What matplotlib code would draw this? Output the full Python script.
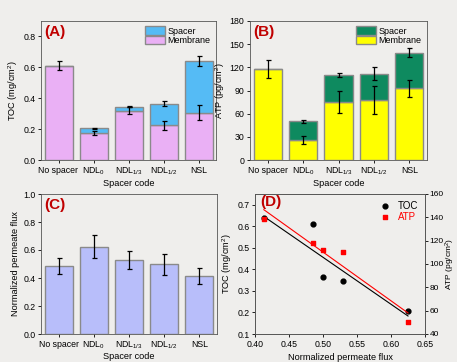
import matplotlib
matplotlib.use("Agg")
import matplotlib.pyplot as plt
import numpy as np

plt.rcParams['font.family'] = ['Liberation Sans', 'DejaVu Sans']
plt.rcParams['mathtext.fontset'] = 'custom'
plt.rcParams['mathtext.rm'] = 'Liberation Sans'
plt.rcParams['mathtext.it'] = 'Liberation Sans'

categories = ['No spacer', 'NDL$_0$', 'NDL$_{1/3}$', 'NDL$_{1/2}$', 'NSL']

toc_membrane = [0.61, 0.175, 0.32, 0.225, 0.305]
toc_membrane_err = [0.03, 0.012, 0.022, 0.03, 0.048]
toc_total = [0.61, 0.205, 0.345, 0.365, 0.64]
toc_total_err = [0.0, 0.005, 0.005, 0.015, 0.032]

atp_membrane = [118, 26, 75, 78, 93]
atp_membrane_err = [12, 5, 14, 18, 11]
atp_total = [118, 50, 110, 112, 139]
atp_total_err = [0, 2, 3, 8, 6]

flux = [0.485, 0.625, 0.53, 0.5, 0.413]
flux_err = [0.055, 0.08, 0.065, 0.075, 0.055]

BG = '#EFEEEC'
EDGE = '#8A8A8A'
PINK = '#EAB0F5'
BLUE = '#55BBF5'
GREEN = '#0E8A5F'
YELLOW = '#FFFF00'
LAV = '#B8BEFA'
LABEL_RED = '#C00000'

fig = plt.figure(figsize=(4.57, 3.62), dpi=100, facecolor=BG)
W, H = 457, 362

def add_ax(l, t, r, b):
    return fig.add_axes([l / W, 1 - b / H, (r - l) / W, (b - t) / H], facecolor=BG)

axA = add_ax(41, 21, 216, 160)
axB = add_ax(250, 21, 427, 160)
axC = add_ax(41, 194, 217, 334)
DL, DR = 255, 425
axD = add_ax(DL, 194, DR, 334)

x = np.arange(len(categories))
fs = 6.3
lfs = 6.6
ekw = dict(ecolor='black', elinewidth=0.9, capsize=1.8, capthick=0.9)

def style(ax):
    ax.tick_params(labelsize=fs, length=2.5, width=0.6, direction='out', pad=1.5)
    for s in ax.spines.values():
        s.set_linewidth(0.6)
        s.set_color('#555555')

# Panel A
spacerA = np.array(toc_total) - np.array(toc_membrane)
axA.bar(x, toc_membrane, 0.8, color=PINK, edgecolor=EDGE, linewidth=1.0, label='Membrane', zorder=2)
axA.bar(x, spacerA, 0.8, bottom=toc_membrane, color=BLUE, edgecolor=EDGE, linewidth=1.0, label='Spacer', zorder=2)
axA.errorbar(x, toc_membrane, yerr=toc_membrane_err, fmt='none', zorder=3, **ekw)
axA.errorbar(x[1:], toc_total[1:], yerr=toc_total_err[1:], fmt='none', zorder=3, **ekw)
axA.set_ylim(0, 0.9)
axA.set_yticks([0.0, 0.2, 0.4, 0.6, 0.8])
axA.set_yticklabels(['0.0', '0.2', '0.4', '0.6', '0.8'])
axA.set_xlim(-0.5, 4.5)
axA.set_xticks(x)
axA.set_xticklabels(categories)
axA.set_ylabel('TOC (mg/cm$^2$)', fontsize=lfs, labelpad=2)
axA.set_xlabel('Spacer code', fontsize=lfs, labelpad=1.5)
h, l = axA.get_legend_handles_labels()
axA.legend(h[::-1], l[::-1], loc='upper right', frameon=False, fontsize=6.5,
           handlelength=2.2, handleheight=1.1, borderaxespad=0.2, labelspacing=0.0, handletextpad=0.3)
axA.text(0.02, 0.97, '(A)', transform=axA.transAxes, color=LABEL_RED, fontsize=11,
         fontweight='bold', va='top', ha='left')
style(axA)

# Panel B
spacerB = np.array(atp_total) - np.array(atp_membrane)
axB.bar(x, atp_membrane, 0.8, color=YELLOW, edgecolor=EDGE, linewidth=1.0, label='Membrane', zorder=2)
axB.bar(x, spacerB, 0.8, bottom=atp_membrane, color=GREEN, edgecolor=EDGE, linewidth=1.0, label='Spacer', zorder=2)
axB.errorbar(x, atp_membrane, yerr=atp_membrane_err, fmt='none', zorder=3, **ekw)
axB.errorbar(x[1:], atp_total[1:], yerr=atp_total_err[1:], fmt='none', zorder=3, **ekw)
axB.set_ylim(0, 180)
axB.set_yticks(np.arange(0, 181, 30))
axB.set_xlim(-0.5, 4.5)
axB.set_xticks(x)
axB.set_xticklabels(categories)
axB.set_ylabel('ATP (pg/cm$^2$)', fontsize=lfs, labelpad=2)
axB.set_xlabel('Spacer code', fontsize=lfs, labelpad=1.5)
h, l = axB.get_legend_handles_labels()
axB.legend(h[::-1], l[::-1], loc='upper right', frameon=False, fontsize=6.5,
           handlelength=2.2, handleheight=1.1, borderaxespad=0.2, labelspacing=0.0, handletextpad=0.3)
axB.text(0.02, 0.97, '(B)', transform=axB.transAxes, color=LABEL_RED, fontsize=11,
         fontweight='bold', va='top', ha='left')
style(axB)

# Panel C
axC.bar(x, flux, 0.8, color=LAV, edgecolor=EDGE, linewidth=1.0, zorder=2)
axC.errorbar(x, flux, yerr=flux_err, fmt='none', zorder=3, **ekw)
axC.set_ylim(0, 1.0)
axC.set_yticks(np.arange(0, 1.01, 0.2))
axC.set_yticklabels(['0.0', '0.2', '0.4', '0.6', '0.8', '1.0'])
axC.set_xlim(-0.5, 4.5)
axC.set_xticks(x)
axC.set_xticklabels(categories)
axC.set_ylabel('Normalized permeate flux', fontsize=lfs, labelpad=2)
axC.set_xlabel('Spacer code', fontsize=lfs, labelpad=0.5)
axC.text(0.02, 0.97, '(C)', transform=axC.transAxes, color=LABEL_RED, fontsize=11,
         fontweight='bold', va='top', ha='left')
style(axC)

# Panel D
axD2 = axD.twinx()
fx = np.array(flux)
xs = np.array([fx.min(), fx.max()])
p1 = np.polyfit(fx, toc_total, 1)
p2 = np.polyfit(fx, atp_total, 1)
axD.plot(xs, np.polyval(p1, xs), color='black', lw=0.8, zorder=2)
axD2.plot(xs, np.polyval(p2, xs), color='red', lw=0.8, zorder=2)
hT = axD.scatter(fx, toc_total, s=12, color='black', marker='o', zorder=3, label='TOC')
hA = axD2.scatter(fx, atp_total, s=11, color='red', marker='s', zorder=3, label='ATP')
axD.set_xlim(0.40, 0.65)
axD.set_xticks(np.arange(0.40, 0.651, 0.05))
axD.set_xticklabels(['0.40', '0.45', '0.50', '0.55', '0.60', '0.65'])
axD.set_ylim(0.1, 0.75)
axD.set_yticks(np.arange(0.1, 0.71, 0.1))
axD.set_yticklabels(['0.1', '0.2', '0.3', '0.4', '0.5', '0.6', '0.7'])
axD2.set_ylim(40, 160)
axD2.set_yticks(np.arange(40, 161, 20))
axD.set_ylabel('TOC (mg/cm$^2$)', fontsize=lfs, labelpad=2)
axD2.set_ylabel('ATP (pg/cm$^2$)', fontsize=6.0, rotation=90, va='center', ha='center')
axD2.yaxis.set_label_coords((450.5 - DL) / (DR - DL), 0.5)
axD.set_xlabel('Normalized permeate flux', fontsize=lfs, labelpad=3)
leg = axD.legend([hT, hA], ['TOC', 'ATP'], loc='upper right', frameon=False, fontsize=7,
                 handletextpad=0.3, borderaxespad=0.3, labelspacing=0.1, bbox_to_anchor=(1.0, 1.0))
leg.get_texts()[1].set_color('red')
axD.text(0.03, 0.99, '(D)', transform=axD.transAxes, color=LABEL_RED, fontsize=11,
         fontweight='bold', va='top', ha='left')
style(axD)
style(axD2)
axD2.tick_params(pad=0.8, labelsize=6.0)

fig.savefig('out.png', dpi=100, facecolor=BG)
